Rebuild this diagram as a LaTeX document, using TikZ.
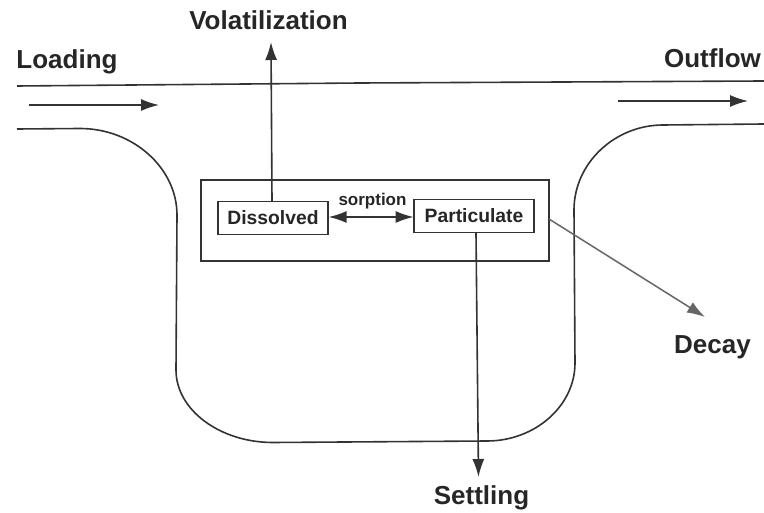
\documentclass[tikz,border=0pt]{standalone}
\usepackage{fontspec}
\setmainfont{Liberation Sans}
\usetikzlibrary{arrows.meta}
\tikzset{
  px/.style={x=1pt,y=-1pt},
  lbl/.style={font=\bfseries\fontsize{26}{28}\selectfont,text=black!85,inner sep=0pt},
  boxlbl/.style={draw=black!80,line width=1.2pt,font=\bfseries\fontsize{19.3}{22}\selectfont,text=black!85,inner sep=0pt,minimum height=33,anchor=center},
  line/.style={draw=black!80,line width=1.6pt},
  arr/.style={line,-{Latex[length=18pt,width=12pt]}},
  darr/.style={line,{Latex[length=18pt,width=12pt]}-{Latex[length=18pt,width=12pt]}}
}
\begin{document}
\begin{tikzpicture}[px]
\useasboundingbox (0,0) rectangle (764,513);
\fill[white] (0,0) rectangle (764,513);
\draw[line] (17,86) -- (360,83) -- (764,81);
\draw[line] (17,129) -- (80,128.5) .. controls (133,128.5) and (177,168) .. (177,215) -- (176,370) .. controls (176,410) and (220,442.5) .. (273,442.5) -- (487,441) .. controls (535,441) and (575,406) .. (575,363) -- (574,210) .. controls (574,163) and (615,125) .. (663,125) -- (764,124);
\node[draw=black!80,line width=1.6pt,minimum width=348,minimum height=81,inner sep=0pt] (outer) at (375,220.5) {};
\node[boxlbl,minimum width=110] (dis) at (273,218) {Dissolved};
\node[boxlbl,minimum width=120] (par) at (474,216) {Particulate};
\node[font=\bfseries\fontsize{17}{20}\selectfont,text=black!85,inner sep=0pt] (sorp) at (372.5,201) {sorption};
\node[lbl] (vol) at (268.5,20) {Volatilization};
\node[lbl] (load) at (67,62) {Loading};
\node[lbl] (outf) at (712.5,58) {Outflow};
\node[lbl] (decay) at (712.5,347) {Decay};
\node[lbl] (sett) at (481.5,498) {Settling};
\coordinate (a1) at (29,105);
\coordinate (a2) at (159,105);
\coordinate (b1) at (618,101);
\coordinate (b2) at (748,101);
\coordinate (vs) at (272,201);
\coordinate (vt) at (271,42);
\coordinate (ss) at (476,233);
\coordinate (st) at (478.5,477);
\coordinate (dt) at (705,317);
\coordinate (ds) at (549,219);
\draw[arr] (a1) -- (a2);
\draw[arr] (b1) -- (b2);
\draw[arr] (vs) -- (vt);
\draw[arr] (ss) -- (st);
\draw[darr] (dis.east) ++(0,-1) -- ++(85,0);
\draw[draw=black!60,line width=1.5pt,-{Latex[length=18pt,width=12pt]}] (ds) -- (dt);
\end{tikzpicture}
\end{document}
